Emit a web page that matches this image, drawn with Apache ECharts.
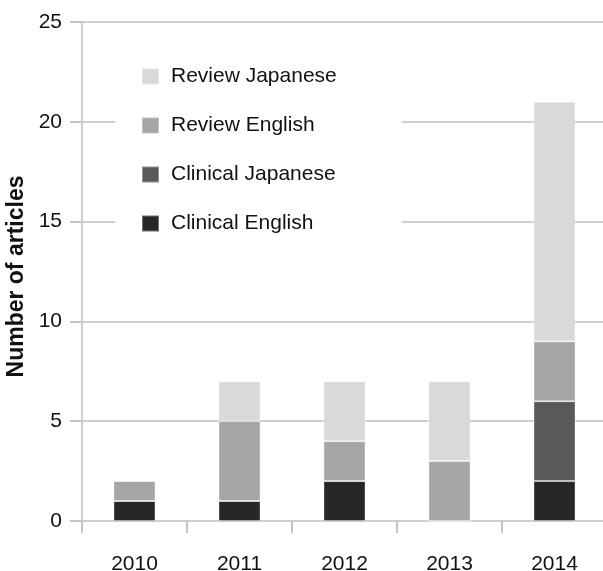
<!DOCTYPE html>
<html>
<head>
<meta charset="utf-8">
<script src="https://cdn.jsdelivr.net/npm/echarts@6/dist/echarts.min.js"></script>
<style>
  html, body { margin: 0; padding: 0; background: #fff; }
  #chart { width: 603px; height: 571px; }
</style>
</head>
<body>
<div id="chart"></div>
<script>
const years = ['2010', '2011', '2012', '2013', '2014'];
const clinicalEnglish = [1, 1, 2, 0, 2];
const clinicalJapanese = [0, 0, 0, 0, 4];
const reviewEnglish = [1, 4, 2, 3, 3];
const reviewJapanese = [0, 2, 3, 4, 12];
const legendOrder = ['Review Japanese', 'Review English', 'Clinical Japanese', 'Clinical English'];

const myChart = echarts.init(document.getElementById('chart'));
const font = 'Liberation Sans, Arial, sans-serif';

function bar(name, data, color) {
  return {
    name: name,
    type: 'bar',
    stack: 'all',
    barWidth: 42,
    data: data,
    itemStyle: {
      color: color,
      borderColor: 'rgba(255,255,255,0.35)',
      borderWidth: 1
    }
  };
}

const option = {
  animation: false,
  textStyle: { fontFamily: font },
  grid: { left: 82, top: 22, width: 525, height: 499, outerBoundsMode: 'none', containLabel: false },
  legend: {
    orient: 'vertical',
    left: 115,
    top: 44,
    data: legendOrder,
    backgroundColor: '#fff',
    padding: [22, 65, 26, 26],
    itemGap: 28,
    itemWidth: 17,
    itemHeight: 16,
    icon: 'rect',
    textStyle: { fontSize: 21, color: '#111', padding: [0, 0, 0, 7], fontFamily: font }
  },
  xAxis: {
    type: 'category',
    data: years,
    axisLine: { lineStyle: { color: '#cfcfcf', width: 2 } },
    axisTick: { show: true, length: 12, lineStyle: { color: '#c4c4c4', width: 2 } },
    axisLabel: { fontSize: 21, color: '#111', margin: 33 }
  },
  yAxis: {
    type: 'value',
    min: 0,
    max: 25,
    interval: 5,
    name: 'Number of articles',
    nameLocation: 'middle',
    nameGap: 53,
    nameTextStyle: { fontSize: 23, fontWeight: 'bold', color: '#111', padding: [0, 10, 0, 0] },
    axisLine: { show: true, lineStyle: { color: '#cfcfcf', width: 2 } },
    axisTick: { show: true, length: 12, lineStyle: { color: '#c4c4c4', width: 2 } },
    axisLabel: { fontSize: 21, color: '#111', margin: 20 },
    splitLine: { lineStyle: { color: '#cfcfcf', width: 2 } }
  },
  series: [
    bar('Clinical English', clinicalEnglish, '#262626'),
    bar('Clinical Japanese', clinicalJapanese, '#595959'),
    bar('Review English', reviewEnglish, '#a5a5a5'),
    bar('Review Japanese', reviewJapanese, '#d9d9d9')
  ]
};
myChart.setOption(option);
</script>
</body>
</html>
